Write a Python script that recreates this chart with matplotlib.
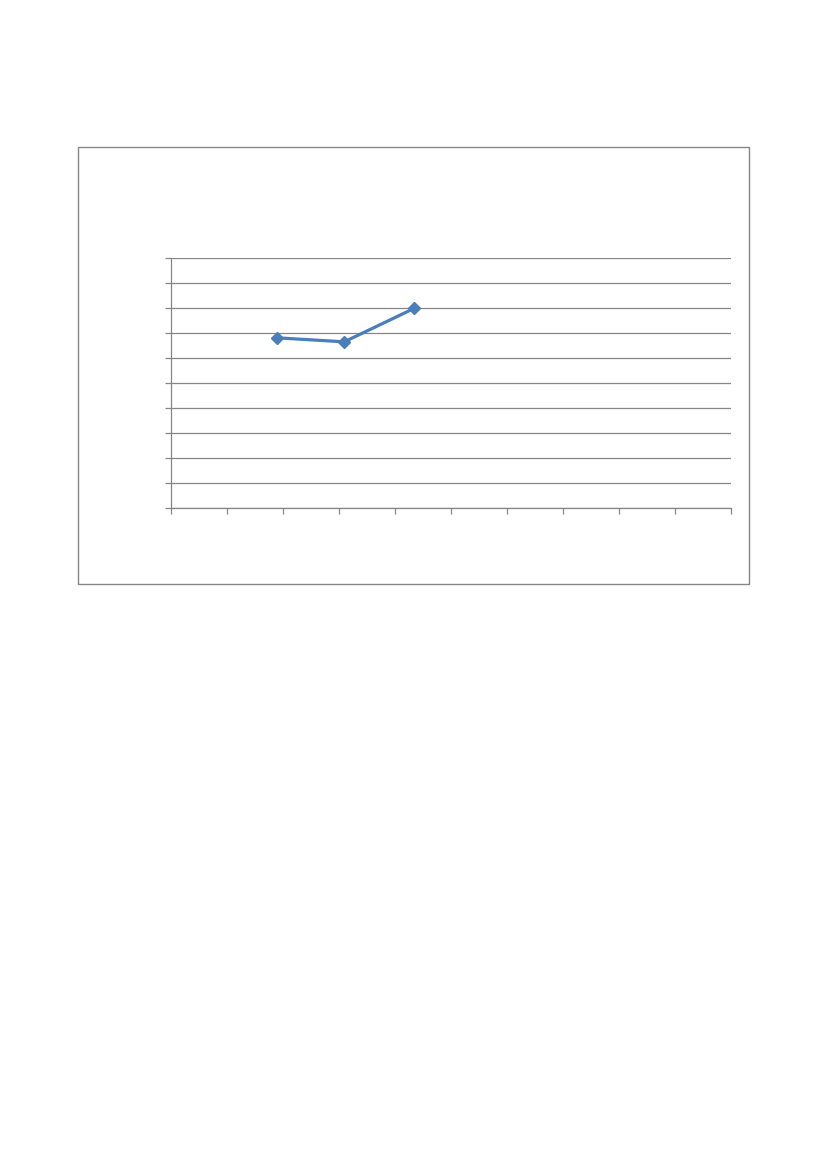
import matplotlib
matplotlib.use('Agg')
import matplotlib.pyplot as plt
from matplotlib.patches import Rectangle

# values (no labels are shown on the chart)
x_vals = [1.9, 3.1, 4.35]
y_vals = [6.82, 6.66, 8.0]
x_ticks = list(range(0, 11))
y_ticks = list(range(0, 11))

GRAY = '#868686'
BLUE = '#4A7EBB'

fig = plt.figure(figsize=(8.27, 11.69), dpi=100)

# chart frame
frame = Rectangle((0.0943, 0.5004), 0.8108, 0.3738, transform=fig.transFigure,
                  fill=False, edgecolor=GRAY, linewidth=1.0)
fig.patches.append(frame)

ax = fig.add_axes([0.2064, 0.5652, 0.6771, 0.2138])
ax.plot(x_vals, y_vals, color=BLUE, linewidth=2.3, marker='D', markersize=6,
        markerfacecolor=BLUE, markeredgecolor=BLUE, zorder=3)

ax.set_xlim(0, 10)
ax.set_ylim(0, 10)
ax.set_xticks(x_ticks)
ax.set_yticks(y_ticks)
ax.set_xticklabels([])
ax.set_yticklabels([])
ax.yaxis.grid(True, color=GRAY, linewidth=0.9)
ax.set_axisbelow(True)
ax.tick_params(axis='both', direction='out', length=4, width=0.9, color=GRAY)
ax.tick_params(axis='y', left=True)
for side in ['top', 'right']:
    ax.spines[side].set_visible(False)
for side in ['left', 'bottom']:
    ax.spines[side].set_color(GRAY)
    ax.spines[side].set_linewidth(0.9)

fig.savefig('out.png', dpi=100)
